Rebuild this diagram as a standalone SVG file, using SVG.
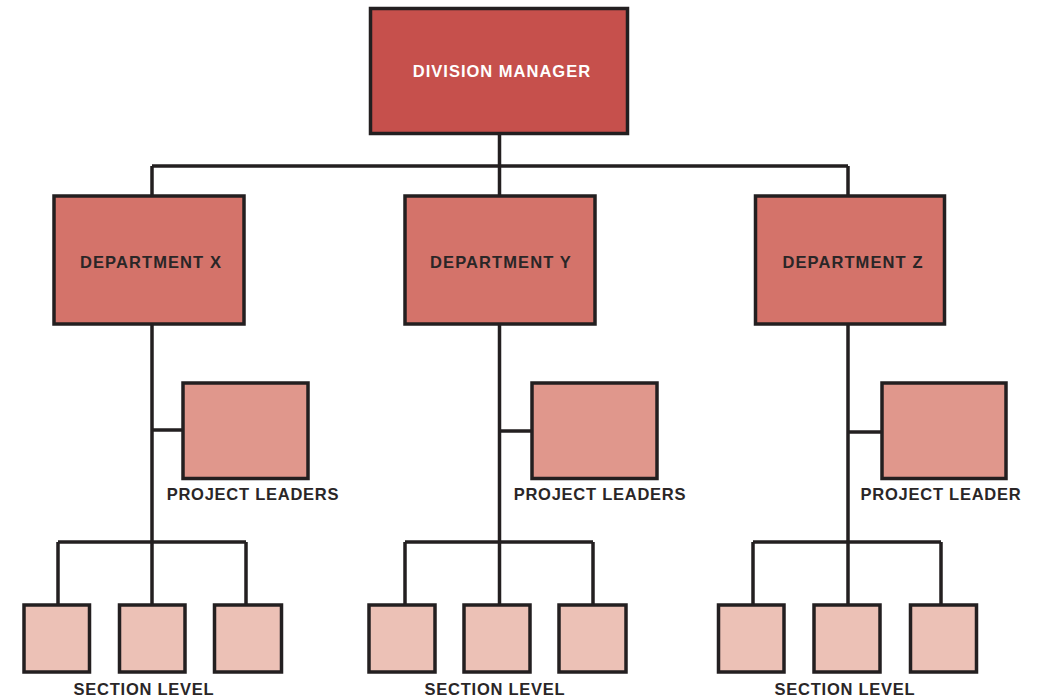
<svg xmlns="http://www.w3.org/2000/svg" width="1038" height="698" viewBox="0 0 1038 698">
<style>
.box{stroke:#231f20;stroke-width:3.5}
.dm{fill:#c6504c}
.dept{fill:#d4736a}
.pl{fill:#e0978c}
.sec{fill:#ecc1b6}
.ln{fill:none;stroke:#231f20;stroke-width:3.5}
text{font-family:"Liberation Sans",Arial,sans-serif;font-weight:bold;font-size:16.5px}
.tw{fill:#ffffff;letter-spacing:1px}
.td{fill:#2a2627;letter-spacing:1.1px}
.tl{fill:#2a2627;letter-spacing:0.75px}
</style>
<rect width="1038" height="698" fill="#ffffff"/>
<g id="connectors">
<path class="ln" d="M499.5 134V166M152 166H848M152 166V196M499.5 166V196M848 166V196"/>
<path class="ln" d="M152 324V542M152 430H183M58 542H246M58 542V605M152 542V605M246 542V605"/>
<path class="ln" d="M499.5 324V542M499.5 431H532M405 542H593M405 542V605M499.5 542V605M593 542V605"/>
<path class="ln" d="M848 324V542M848 432H882M753 542H941M753 542V605M848 542V605M941 542V605"/>
</g>
<g id="division-manager"><rect class="box dm" x="370.5" y="8.5" width="257" height="125"/><text class="tw" x="502" y="76.5" text-anchor="middle">DIVISION MANAGER</text></g>
<g id="dept-x"><rect class="box dept" x="54" y="196" width="190" height="128"/><text class="td" x="151" y="268" text-anchor="middle">DEPARTMENT X</text></g>
<g id="dept-y"><rect class="box dept" x="405" y="196" width="190" height="128"/><text class="td" x="501" y="268" text-anchor="middle">DEPARTMENT Y</text></g>
<g id="dept-z"><rect class="box dept" x="755.5" y="196" width="189" height="128"/><text class="td" x="853" y="268" text-anchor="middle">DEPARTMENT Z</text></g>
<g id="pl-x"><rect class="box pl" x="183" y="383" width="125" height="95.5"/><text class="tl" x="253" y="500" text-anchor="middle">PROJECT LEADERS</text></g>
<g id="pl-y"><rect class="box pl" x="532" y="383" width="125" height="95.5"/><text class="tl" x="600" y="500" text-anchor="middle">PROJECT LEADERS</text></g>
<g id="pl-z"><rect class="box pl" x="882" y="383" width="124" height="95.5"/><text class="tl" x="941" y="500" text-anchor="middle">PROJECT LEADER</text></g>
<g id="sec-x1"><rect class="box sec" x="24" y="605" width="65.5" height="67"/></g>
<g id="sec-x2"><rect class="box sec" x="119.5" y="605" width="65.5" height="67"/></g>
<g id="sec-x3"><rect class="box sec" x="214.5" y="605" width="67" height="67"/></g>
<g id="sec-y1"><rect class="box sec" x="369" y="605" width="66" height="67"/></g>
<g id="sec-y2"><rect class="box sec" x="464" y="605" width="66" height="67"/></g>
<g id="sec-y3"><rect class="box sec" x="559" y="605" width="67" height="67"/></g>
<g id="sec-z1"><rect class="box sec" x="718.5" y="605" width="65.5" height="67"/></g>
<g id="sec-z2"><rect class="box sec" x="814" y="605" width="66" height="67"/></g>
<g id="sec-z3"><rect class="box sec" x="910.5" y="605" width="66" height="67"/></g>
<g id="section-labels">
<text class="tl" x="144" y="695" text-anchor="middle">SECTION LEVEL</text>
<text class="tl" x="495" y="695" text-anchor="middle">SECTION LEVEL</text>
<text class="tl" x="845" y="695" text-anchor="middle">SECTION LEVEL</text>
</g>
</svg>
